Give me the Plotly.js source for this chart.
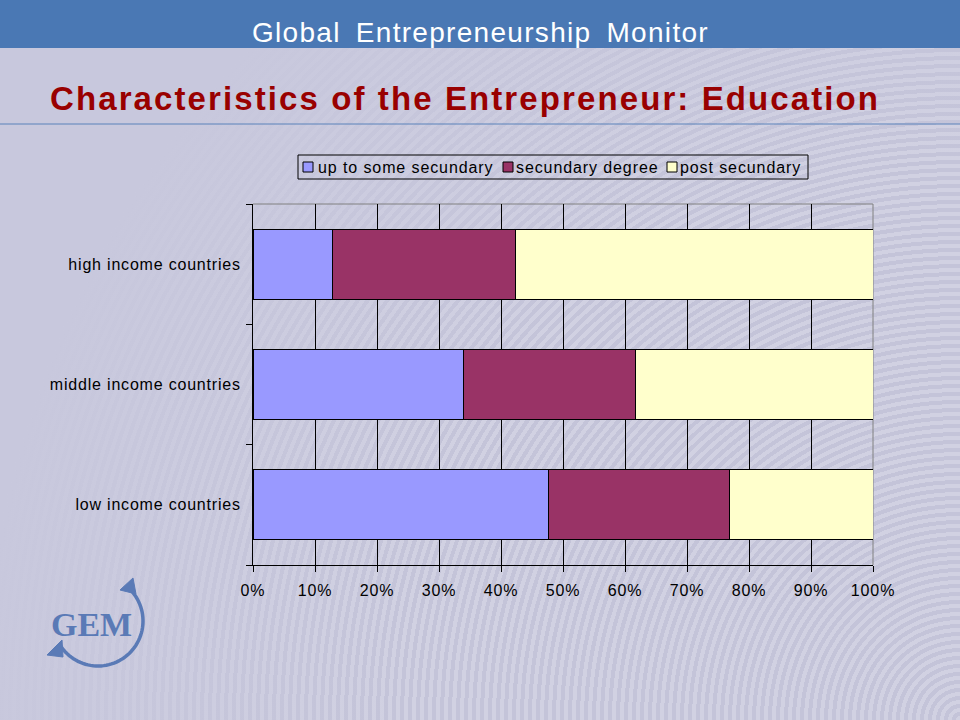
<!DOCTYPE html>
<html>
<head>
<meta charset="utf-8">
<script src="https://cdn.plot.ly/plotly-3.0.1.min.js"></script>
<style>
  html, body { margin:0; padding:0; }
  #wrap {
    width:960px; height:720px; position:relative; overflow:hidden;
    background:
      radial-gradient(circle at 960px 720px, rgba(200,200,221,0) 0px, rgba(200,200,221,0) 560px, rgba(200,200,221,1) 980px),
      repeating-radial-gradient(circle at 960px 720px, #d1d1e2 0px, #d1d1e2 4px, #c4c4d9 4px, #c4c4d9 8px);
    background-color:#c8c8dd;
  }
  #chart { width:960px; height:720px; position:absolute; left:0; top:0; }
  #chart .xtick text { letter-spacing:0.9px; }
  #chart .ytick text { letter-spacing:0.8px; }
</style>
</head>
<body>
<div id="wrap"><div id="chart"></div></div>
<script>
// ---- data (bottom-to-top category order as drawn) ----
const categories = ['low income countries', 'middle income countries', 'high income countries'];
const upToSomeSecundary = [47.6, 34.0, 12.9];
const secundaryDegree   = [29.2, 27.7, 29.5];
const postSecundary     = [23.2, 38.3, 57.6];
const seriesNames = ['up to some secundary', 'secundary degree', 'post secundary'];
const xTickVals = [0,10,20,30,40,50,60,70,80,90,100];
const xTickText = ['0%','10%','20%','30%','40%','50%','60%','70%','80%','90%','100%'];

// ---- styles ----
const seriesColors = ['#9999ff', '#993366', '#ffffcc'];
const FONT = 'Liberation Sans, Arial, sans-serif';
const barLine = {color:'#000000', width:1};
const logoColor = '#5a7ab6';

// ---- layout geometry helpers (pixel -> paper) ----
const L = 253, R = 87, T = 204, B = 155;
const PW = 960 - L - R, PH = 720 - T - B;
const px = x => (x - L) / PW;
const py = y => (720 - B - y) / PH;

const seriesValues = [upToSomeSecundary, secundaryDegree, postSecundary];
const traces = seriesValues.map((vals, i) => ({
  type:'bar', orientation:'h', name:seriesNames[i], y:categories, x:vals,
  marker:{color:seriesColors[i], line:barLine}, showlegend:false
}));

// GEM logo arc (pixel polyline converted to paper coords)
function arcPath(cx, cy, r, a0, a1, n) {
  let d = '';
  for (let i = 0; i <= n; i++) {
    const a = (a0 + (a1 - a0) * i / n) * Math.PI / 180;
    const x = cx + r * Math.cos(a), y = cy + r * Math.sin(a);
    d += (i === 0 ? 'M ' : ' L ') + px(x).toFixed(5) + ',' + py(y).toFixed(5);
  }
  return d;
}
function triPath(pts) {
  return 'M ' + pts.map(p => px(p[0]).toFixed(5) + ',' + py(p[1]).toFixed(5)).join(' L ') + ' Z';
}

// Legend (Excel-style compact box): pixel anchors for symbols and labels
const legendSymbolX = [303, 503, 667];
const legendTextX = [318, 516, 680];
const legendShapes = [
  {type:'rect', xref:'paper', yref:'paper', x0:px(298), x1:px(808), y0:py(179), y1:py(155),
   line:{color:'#000000', width:1}, fillcolor:'rgba(0,0,0,0)', layer:'above'}
].concat(seriesNames.map((n, i) => ({
  type:'rect', xref:'paper', yref:'paper',
  x0:px(legendSymbolX[i]), x1:px(legendSymbolX[i] + 10), y0:py(172), y1:py(162),
  line:{color:'#000000', width:1}, fillcolor:seriesColors[i], layer:'above'
})));
const legendAnnotations = seriesNames.map((n, i) => ({
  text:'<span style="letter-spacing:0.9px">' + n + '</span>',
  xref:'paper', yref:'paper', x:px(legendTextX[i]), y:py(167),
  xanchor:'left', yanchor:'middle', showarrow:false, borderpad:0, borderwidth:0,
  font:{family:FONT, size:16, color:'#000000'}
}));

const layout = {
  width:960, height:720,
  margin:{l:L, r:R, t:T, b:B, pad:0},
  paper_bgcolor:'rgba(0,0,0,0)',
  plot_bgcolor:'rgba(0,0,0,0)',
  barmode:'stack',
  bargap:0.42,
  showlegend:false,
  xaxis:{
    range:[0,100], tickvals:xTickVals, ticktext:xTickText,
    showgrid:true, gridcolor:'#000000', gridwidth:1,
    showline:true, linecolor:'#000000', linewidth:1,
    ticks:'outside', ticklen:6, tickcolor:'#000000',
    tickfont:{family:FONT, size:16, color:'#000000'},
    ticklabelstandoff:5,
    zeroline:false, fixedrange:true
  },
  yaxis:{
    type:'category', categoryorder:'array', categoryarray:categories,
    showgrid:false, showline:true, linecolor:'#000000', linewidth:1,
    ticks:'outside', ticklen:6, tickcolor:'#000000', tickson:'boundaries',
    tickfont:{family:FONT, size:16, color:'#000000'},
    ticklabelstandoff:8,
    zeroline:false, fixedrange:true
  },
  shapes:[
    {type:'rect', xref:'paper', yref:'paper', x0:px(0), x1:px(960), y0:py(48), y1:py(0),
     fillcolor:'#4a78b4', line:{width:0}, layer:'below'},
    {type:'line', xref:'paper', yref:'paper', x0:px(0), x1:px(960), y0:py(124), y1:py(124),
     line:{color:'#5b82ba', width:1}, layer:'below'},
    {type:'line', xref:'paper', yref:'paper', x0:0, x1:1, y0:1, y1:1,
     line:{color:'#808080', width:1}, layer:'between'},
    {type:'line', xref:'paper', yref:'paper', x0:1, x1:1, y0:0, y1:1,
     line:{color:'#808080', width:1}, layer:'between'},
    {type:'path', xref:'paper', yref:'paper', path:arcPath(98, 621, 45, -52, 150, 60),
     line:{color:logoColor, width:3.5}, layer:'below'},
    {type:'path', xref:'paper', yref:'paper', path:triPath([[133,578],[120,590],[136,594]]),
     fillcolor:logoColor, line:{color:logoColor, width:1}, layer:'below'},
    {type:'path', xref:'paper', yref:'paper', path:triPath([[47,655],[62,640],[63,657]]),
     fillcolor:logoColor, line:{color:logoColor, width:1}, layer:'below'}
  ].concat(legendShapes),
  annotations:[
    {text:'<span style="letter-spacing:1.3px;word-spacing:6px">Global Entrepreneurship Monitor</span>',
     xref:'paper', yref:'paper',
     x:px(480), y:py(32), xanchor:'center', yanchor:'middle', showarrow:false,
     font:{family:FONT, size:28, color:'#ffffff'}},
    {text:'<span style="letter-spacing:2.1px">Characteristics of the Entrepreneur: Education</span>',
     xref:'paper', yref:'paper',
     x:px(50), y:py(99), xanchor:'left', yanchor:'middle', showarrow:false, borderpad:0, borderwidth:0,
     font:{family:FONT, size:33, color:'#990000', weight:'bold'}},
    {text:'GEM', xref:'paper', yref:'paper',
     x:px(91), y:py(624), xanchor:'center', yanchor:'middle', showarrow:false,
     font:{family:'Liberation Serif, DejaVu Serif, serif', size:34, color:logoColor, weight:'bold'}}
  ].concat(legendAnnotations)
};

Plotly.newPlot('chart', traces, layout, {displayModeBar:false, staticPlot:true});
</script>
</body>
</html>
